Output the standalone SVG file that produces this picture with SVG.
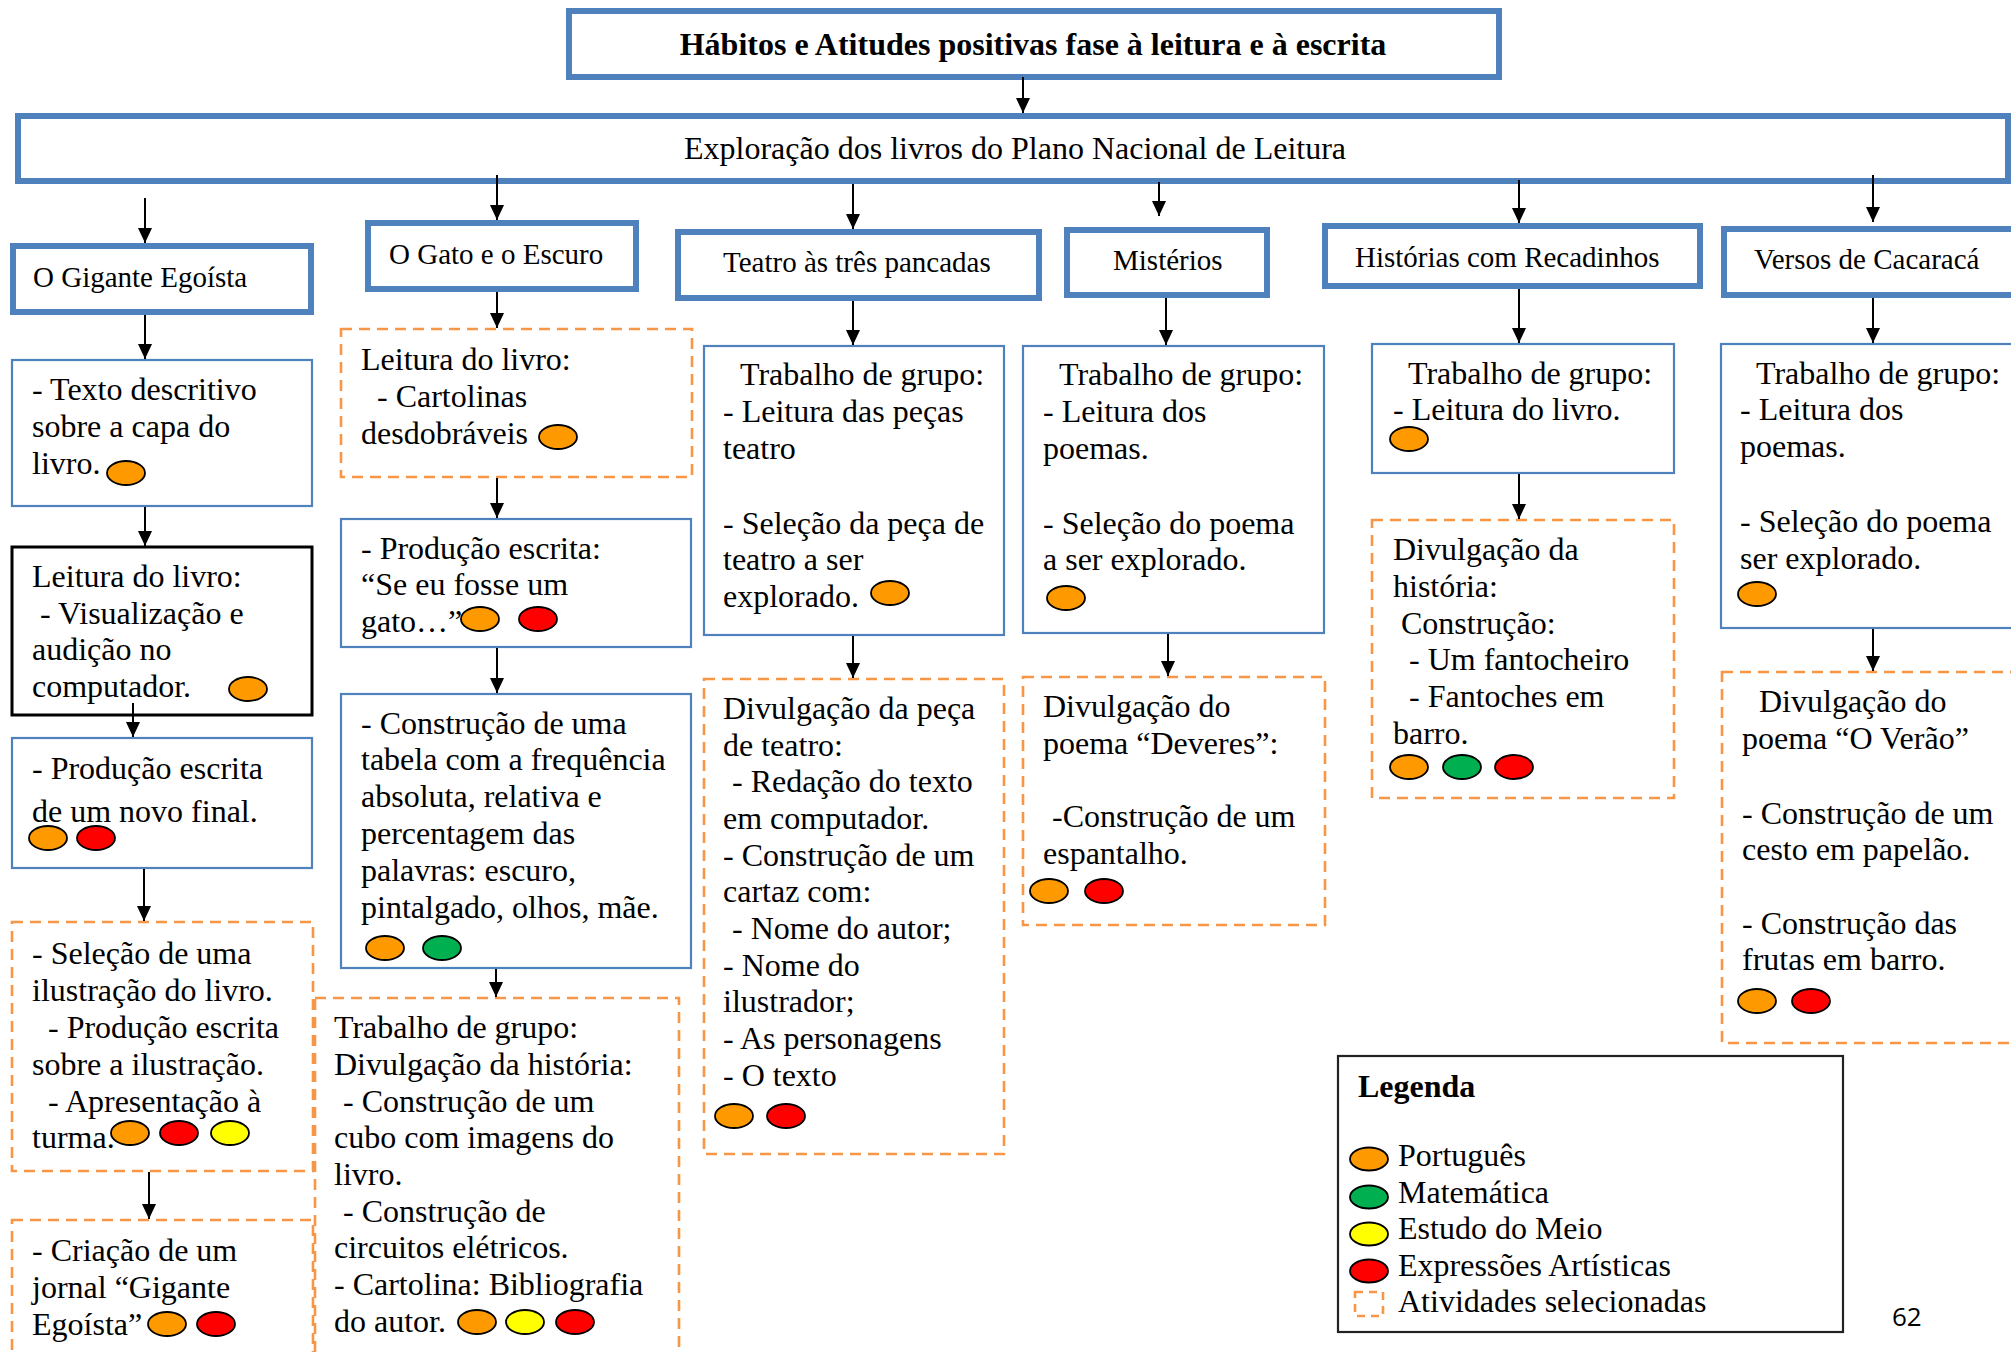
<svg xmlns="http://www.w3.org/2000/svg" width="2011" height="1352" viewBox="0 0 2011 1352">
<style>
.t{font-family:"Liberation Serif","Times New Roman",serif;font-size:32px;fill:#000}
text{transform:translateY(1.5px)}
.h{font-size:29px}
.b{font-weight:bold}
.thick{fill:#fff;stroke:#4F81BD;stroke-width:6}
.thin{fill:#fff;stroke:#4F81BD;stroke-width:2.2}
.dash{fill:#fff;stroke:#F79646;stroke-width:2.6;stroke-dasharray:11 7}
.blk{fill:#fff;stroke:#000;stroke-width:3}
.dot{stroke:#000;stroke-width:1.8}
.po{fill:#FF9900}.ma{fill:#00B050}.em{fill:#FFFF00}.ea{fill:#FF0000}
.c line{stroke:#000;stroke-width:2;marker-end:url(#ah)}
.pg{font-family:"Open Sans","Liberation Sans",sans-serif;font-size:26px;fill:#000}
</style>
<defs>
<marker id="ah" markerUnits="userSpaceOnUse" markerWidth="16" markerHeight="15" refX="15" refY="7" orient="auto">
<path d="M0,0 L15,7 L0,14 z" fill="#000"/>
</marker>
</defs>
<rect width="2011" height="1352" fill="#fff"/>

<g id="titulo">
<rect class="thick" x="569" y="11" width="930" height="66"/>
<text class="t b" x="1033" y="53" text-anchor="middle">Hábitos e Atitudes positivas fase à leitura e à escrita</text>
</g>
<g id="exploracao">
<rect class="thick" x="18" y="116" width="1990" height="65"/>
<text class="t" x="684" y="157">Exploração dos livros do Plano Nacional de Leitura</text>
</g>

<g id="gigante">
<rect class="thick" x="13" y="246" width="298" height="66"/>
<text class="t h" x="33" y="285">O Gigante Egoísta</text>
</g>
<g id="gato">
<rect class="thick" x="368" y="223" width="268" height="66"/>
<text class="t h" x="389" y="262">O Gato e o Escuro</text>
</g>
<g id="teatro">
<rect class="thick" x="678" y="232" width="361" height="66"/>
<text class="t h" x="723" y="270">Teatro às três pancadas</text>
</g>
<g id="misterios">
<rect class="thick" x="1067" y="230" width="200" height="65"/>
<text class="t h" x="1113" y="268">Mistérios</text>
</g>
<g id="historias">
<rect class="thick" x="1325" y="226" width="375" height="60"/>
<text class="t h" x="1355" y="265">Histórias com Recadinhos</text>
</g>
<g id="versos">
<rect class="thick" x="1724" y="229" width="300" height="66"/>
<text class="t h" x="1754" y="267">Versos de Cacaracá</text>
</g>

<!-- Column 1 -->
<g id="a1">
<rect class="thin" x="12" y="360" width="300" height="146"/>
<text class="t"><tspan x="32" y="398">- Texto descritivo</tspan><tspan x="32" y="435">sobre a capa do</tspan><tspan x="32" y="472">livro.</tspan></text>
<ellipse class="dot po" cx="126" cy="473" rx="19" ry="12"/>
</g>
<g id="a2">
<rect class="blk" x="12" y="547" width="300" height="168"/>
<text class="t"><tspan x="32" y="585">Leitura do livro:</tspan><tspan x="40" y="622">- Visualização e</tspan><tspan x="32" y="658">audição no</tspan><tspan x="32" y="695">computador.</tspan></text>
<ellipse class="dot po" cx="248" cy="689" rx="19" ry="12"/>
</g>
<g id="a3">
<rect class="thin" x="12" y="738" width="300" height="130"/>
<text class="t"><tspan x="32" y="777">- Produção escrita</tspan><tspan x="32" y="820">de um novo final.</tspan></text>
<ellipse class="dot po" cx="48" cy="838" rx="19" ry="12"/>
<ellipse class="dot ea" cx="96" cy="838" rx="19" ry="12"/>
</g>
<g id="a4">
<rect class="dash" x="12" y="922" width="301" height="249"/>
<text class="t"><tspan x="32" y="962">- Seleção de uma</tspan><tspan x="32" y="999">ilustração do livro.</tspan><tspan x="48" y="1036">- Produção escrita</tspan><tspan x="32" y="1073">sobre a ilustração.</tspan><tspan x="48" y="1110">- Apresentação à</tspan><tspan x="32" y="1146">turma.</tspan></text>
<ellipse class="dot po" cx="130" cy="1133" rx="19" ry="12"/>
<ellipse class="dot ea" cx="179" cy="1133" rx="19" ry="12"/>
<ellipse class="dot em" cx="230" cy="1133" rx="19" ry="12"/>
</g>
<g id="a5">
<rect class="dash" x="12" y="1220" width="301" height="160"/>
<text class="t"><tspan x="32" y="1259">- Criação de um</tspan><tspan x="32" y="1296">jornal “Gigante</tspan><tspan x="32" y="1333">Egoísta”</tspan></text>
<ellipse class="dot po" cx="167" cy="1324" rx="19" ry="12"/>
<ellipse class="dot ea" cx="216" cy="1324" rx="19" ry="12"/>
</g>

<!-- Column 2 -->
<g id="b1">
<rect class="dash" x="341" y="329" width="351" height="148"/>
<text class="t"><tspan x="361" y="368">Leitura do livro:</tspan><tspan x="377" y="405">- Cartolinas</tspan><tspan x="361" y="442">desdobráveis</tspan></text>
<ellipse class="dot po" cx="558" cy="437" rx="19" ry="12"/>
</g>
<g id="b2">
<rect class="thin" x="341" y="519" width="350" height="128"/>
<text class="t"><tspan x="361" y="557">- Produção escrita:</tspan><tspan x="361" y="593">“Se eu fosse um</tspan><tspan x="361" y="630">gato…”</tspan></text>
<ellipse class="dot po" cx="480" cy="619" rx="19" ry="12"/>
<ellipse class="dot ea" cx="538" cy="619" rx="19" ry="12"/>
</g>
<g id="b3">
<rect class="thin" x="341" y="694" width="350" height="274"/>
<text class="t"><tspan x="361" y="732">- Construção de uma</tspan><tspan x="361" y="768">tabela com a frequência</tspan><tspan x="361" y="805">absoluta, relativa e</tspan><tspan x="361" y="842">percentagem das</tspan><tspan x="361" y="879">palavras: escuro,</tspan><tspan x="361" y="916">pintalgado, olhos, mãe.</tspan></text>
<ellipse class="dot po" cx="385" cy="948" rx="19" ry="12"/>
<ellipse class="dot ma" cx="442" cy="948" rx="19" ry="12"/>
</g>
<g id="b4">
<rect class="dash" x="315" y="998" width="364" height="380"/>
<text class="t"><tspan x="334" y="1036">Trabalho de grupo:</tspan><tspan x="334" y="1073">Divulgação da história:</tspan><tspan x="343" y="1110">- Construção de um</tspan><tspan x="334" y="1146">cubo com imagens do</tspan><tspan x="334" y="1183">livro.</tspan><tspan x="343" y="1220">- Construção de</tspan><tspan x="334" y="1256">circuitos elétricos.</tspan><tspan x="334" y="1293">- Cartolina: Bibliografia</tspan><tspan x="334" y="1330">do autor.</tspan></text>
<ellipse class="dot po" cx="477" cy="1322" rx="19" ry="12"/>
<ellipse class="dot em" cx="525" cy="1322" rx="19" ry="12"/>
<ellipse class="dot ea" cx="575" cy="1322" rx="19" ry="12"/>
</g>

<!-- Column 3 -->
<g id="c1">
<rect class="thin" x="704" y="346" width="300" height="289"/>
<text class="t"><tspan x="740" y="383">Trabalho de grupo:</tspan><tspan x="723" y="420">- Leitura das peças</tspan><tspan x="723" y="457">teatro</tspan><tspan x="723" y="532">- Seleção da peça de</tspan><tspan x="723" y="568">teatro a ser</tspan><tspan x="723" y="605">explorado.</tspan></text>
<ellipse class="dot po" cx="890" cy="593" rx="19" ry="12"/>
</g>
<g id="c2">
<rect class="dash" x="704" y="679" width="300" height="475"/>
<text class="t"><tspan x="723" y="717">Divulgação da peça</tspan><tspan x="723" y="754">de teatro:</tspan><tspan x="732" y="790">- Redação do texto</tspan><tspan x="723" y="827">em computador.</tspan><tspan x="723" y="864">- Construção de um</tspan><tspan x="723" y="900">cartaz com:</tspan><tspan x="732" y="937">- Nome do autor;</tspan><tspan x="723" y="974">- Nome do</tspan><tspan x="723" y="1010">ilustrador;</tspan><tspan x="723" y="1047">- As personagens</tspan><tspan x="723" y="1084">- O texto</tspan></text>
<ellipse class="dot po" cx="734" cy="1116" rx="19" ry="12"/>
<ellipse class="dot ea" cx="786" cy="1116" rx="19" ry="12"/>
</g>

<!-- Column 4 -->
<g id="d1">
<rect class="thin" x="1023" y="346" width="301" height="287"/>
<text class="t"><tspan x="1059" y="383">Trabalho de grupo:</tspan><tspan x="1043" y="420">- Leitura dos</tspan><tspan x="1043" y="457">poemas.</tspan><tspan x="1043" y="532">- Seleção do poema</tspan><tspan x="1043" y="568">a ser explorado.</tspan></text>
<ellipse class="dot po" cx="1066" cy="598" rx="19" ry="12"/>
</g>
<g id="d2">
<rect class="dash" x="1023" y="677" width="302" height="248"/>
<text class="t"><tspan x="1043" y="715">Divulgação do</tspan><tspan x="1043" y="752">poema “Deveres”:</tspan><tspan x="1052" y="825">-Construção de um</tspan><tspan x="1043" y="862">espantalho.</tspan></text>
<ellipse class="dot po" cx="1049" cy="891" rx="19" ry="12"/>
<ellipse class="dot ea" cx="1104" cy="891" rx="19" ry="12"/>
</g>

<!-- Column 5 -->
<g id="e1">
<rect class="thin" x="1372" y="344" width="302" height="129"/>
<text class="t"><tspan x="1408" y="382">Trabalho de grupo:</tspan><tspan x="1393" y="418">- Leitura do livro.</tspan></text>
<ellipse class="dot po" cx="1409" cy="439" rx="19" ry="12"/>
</g>
<g id="e2">
<rect class="dash" x="1372" y="520" width="302" height="278"/>
<text class="t"><tspan x="1393" y="558">Divulgação da</tspan><tspan x="1393" y="595">história:</tspan><tspan x="1401" y="632">Construção:</tspan><tspan x="1409" y="668">- Um fantocheiro</tspan><tspan x="1409" y="705">- Fantoches em</tspan><tspan x="1393" y="742">barro.</tspan></text>
<ellipse class="dot po" cx="1409" cy="767" rx="19" ry="12"/>
<ellipse class="dot ma" cx="1462" cy="767" rx="19" ry="12"/>
<ellipse class="dot ea" cx="1514" cy="767" rx="19" ry="12"/>
</g>

<!-- Column 6 -->
<g id="f1">
<rect class="thin" x="1721" y="344" width="300" height="284"/>
<text class="t"><tspan x="1756" y="382">Trabalho de grupo:</tspan><tspan x="1740" y="418">- Leitura dos</tspan><tspan x="1740" y="455">poemas.</tspan><tspan x="1740" y="530">- Seleção do poema</tspan><tspan x="1740" y="567">ser explorado.</tspan></text>
<ellipse class="dot po" cx="1757" cy="594" rx="19" ry="12"/>
</g>
<g id="f2">
<rect class="dash" x="1722" y="672" width="300" height="371"/>
<text class="t"><tspan x="1759" y="710">Divulgação do</tspan><tspan x="1742" y="747">poema “O Verão”</tspan><tspan x="1742" y="822">- Construção de um</tspan><tspan x="1742" y="858">cesto em papelão.</tspan><tspan x="1742" y="932">- Construção das</tspan><tspan x="1742" y="968">frutas em barro.</tspan></text>
<ellipse class="dot po" cx="1757" cy="1001" rx="19" ry="12"/>
<ellipse class="dot ea" cx="1811" cy="1001" rx="19" ry="12"/>
</g>

<!-- Legend -->
<g id="legenda">
<rect x="1338" y="1056" width="505" height="276" fill="#fff" stroke="#222" stroke-width="2.2"/>
<text class="t b" x="1358" y="1095">Legenda</text>
<ellipse class="dot po" cx="1369" cy="1159" rx="19" ry="11.5"/>
<text class="t" x="1398" y="1164">Português</text>
<ellipse class="dot ma" cx="1369" cy="1197" rx="19" ry="11.5"/>
<text class="t" x="1398" y="1201">Matemática</text>
<ellipse class="dot em" cx="1369" cy="1234" rx="19" ry="11.5"/>
<text class="t" x="1398" y="1237">Estudo do Meio</text>
<ellipse class="dot ea" cx="1369" cy="1271" rx="19" ry="11.5"/>
<text class="t" x="1398" y="1274">Expressões Artísticas</text>
<rect x="1355" y="1292" width="28" height="24" fill="none" stroke="#F79646" stroke-width="2.6" stroke-dasharray="8 6"/>
<text class="t" x="1398" y="1310">Atividades selecionadas</text>
</g>
<text class="pg" x="1892" y="1324">62</text>

<g id="connectors" class="c">
<line x1="1023" y1="77" x2="1023" y2="113"/>
<line x1="145" y1="198" x2="145" y2="243"/>
<line x1="497" y1="175" x2="497" y2="220"/>
<line x1="853" y1="184" x2="853" y2="229"/>
<line x1="1159" y1="182" x2="1159" y2="216"/>
<line x1="1519" y1="180" x2="1519" y2="223"/>
<line x1="1873" y1="175" x2="1873" y2="222"/>
<line x1="145" y1="315" x2="145" y2="359"/>
<line x1="145" y1="507" x2="145" y2="546"/>
<line x1="133" y1="703" x2="133" y2="737"/>
<line x1="144" y1="869" x2="144" y2="921"/>
<line x1="149" y1="1172" x2="149" y2="1219"/>
<line x1="497" y1="292" x2="497" y2="328"/>
<line x1="497" y1="478" x2="497" y2="518"/>
<line x1="497" y1="648" x2="497" y2="693"/>
<line x1="496" y1="969" x2="496" y2="997"/>
<line x1="853" y1="301" x2="853" y2="345"/>
<line x1="853" y1="636" x2="853" y2="678"/>
<line x1="1166" y1="298" x2="1166" y2="345"/>
<line x1="1168" y1="634" x2="1168" y2="676"/>
<line x1="1519" y1="289" x2="1519" y2="343"/>
<line x1="1519" y1="474" x2="1519" y2="519"/>
<line x1="1873" y1="298" x2="1873" y2="343"/>
<line x1="1873" y1="629" x2="1873" y2="671"/>
</g>
</svg>
